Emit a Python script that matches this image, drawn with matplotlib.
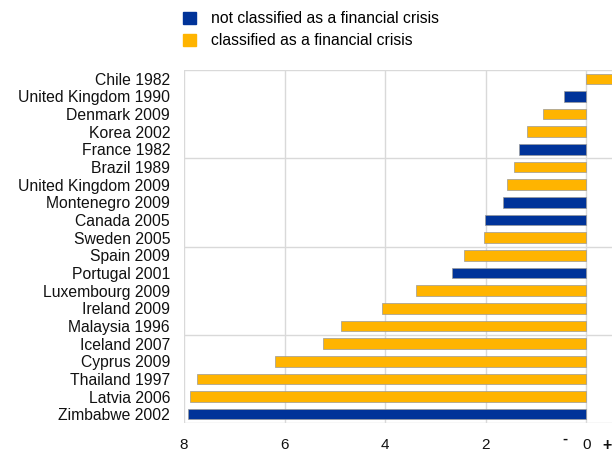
import matplotlib
matplotlib.use("Agg")
import matplotlib.pyplot as plt
from matplotlib.patches import Patch
from matplotlib.transforms import blended_transform_factory

plt.rcParams['font.family'] = ['Liberation Sans', 'DejaVu Sans']

categories = ["Chile 1982", "United Kingdom 1990", "Denmark 2009", "Korea 2002", "France 1982",
              "Brazil 1989", "United Kingdom 2009", "Montenegro 2009", "Canada 2005", "Sweden 2005",
              "Spain 2009", "Portugal 2001", "Luxembourg 2009", "Ireland 2009", "Malaysia 1996",
              "Iceland 2007", "Cyprus 2009", "Thailand 1997", "Latvia 2006", "Zimbabwe 2002"]
# decline (positive = fall); Chile 1982 shows a rise
values = [-0.55, 0.44, 0.86, 1.18, 1.34,
          1.43, 1.58, 1.66, 2.01, 2.04,
          2.44, 2.68, 3.39, 4.06, 4.87,
          5.24, 6.19, 7.74, 7.89, 7.93]
financial = [True, False, True, True, False,
             True, True, False, False, True,
             True, False, True, True, True,
             True, True, True, True, False]
legend_labels = ["not classified as a financial crisis", "classified as a financial crisis"]
xtick_vals = [8, 6, 4, 2, 0]

BLUE = "#003399"
ORANGE = "#FFB400"
FS = 11.3

fig = plt.figure(figsize=(6.16, 4.53), dpi=100)
ax = fig.add_axes([184/616, 30/453, 428/616, 353/453])

ypos = list(range(len(categories)))
colors = [ORANGE if f else BLUE for f in financial]
ax.barh(ypos, values, height=0.6, color=colors, edgecolor="#9a9a9a", linewidth=0.5, zorder=3)

ax.set_xlim(8.0, -0.51)
ax.set_ylim(len(categories) - 0.5, -0.5)

ax.set_yticks(ypos)
ax.set_yticklabels(categories, fontsize=FS, color="#111111")
ax.set_xticks(xtick_vals)
ax.set_xticklabels([str(v) for v in xtick_vals], fontsize=11, color="#111111")
ax.tick_params(length=0)
ax.tick_params(axis='y', pad=10)
ax.tick_params(axis='x', pad=11)

for v in xtick_vals:
    ax.axvline(v, color="#d9d9d9", linewidth=1.0, zorder=1)
for b in [-0.5, 4.5, 9.5, 14.5, 19.5]:
    ax.axhline(b, color="#d9d9d9", linewidth=1.0, zorder=1)

for s in ax.spines.values():
    s.set_visible(False)

trans = blended_transform_factory(ax.transData, ax.transAxes)
ax.text(0.42, -0.045, "-", transform=trans, ha="center", va="center", fontsize=11, fontweight="bold", color="#111111")
ax.text(-0.42, -0.063, "+", transform=trans, ha="center", va="center", fontsize=11.5, fontweight="bold", color="#111111")

handles = [Patch(facecolor=BLUE, edgecolor=BLUE), Patch(facecolor=ORANGE, edgecolor=ORANGE)]
fig.legend(handles, legend_labels, loc="upper left", bbox_to_anchor=(177/616, 1 - 5/453),
           frameon=False, fontsize=FS, handlelength=0.8, handleheight=0.8,
           handletextpad=0.95, labelspacing=0.45, borderaxespad=0)

fig.savefig("out.png", dpi=100)
